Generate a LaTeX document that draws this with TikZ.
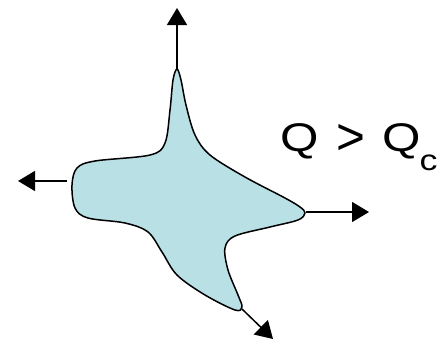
\documentclass[tikz,border=0pt]{standalone}
\usepackage{fontspec}
\setmainfont{Liberation Sans}
\usetikzlibrary{arrows.meta}
\definecolor{blobfill}{RGB}{185,224,229}
\begin{document}
\begin{tikzpicture}[x=1pt,y=-1pt,
  flow/.style={line width=1.5pt,-{Triangle[width=20pt,length=17pt]}},
  blob/.style={draw=black,line width=1.5pt,fill=blobfill}]
\useasboundingbox (0,0) rectangle (438,341);
\draw[blob] plot[smooth cycle,tension=0.55] coordinates {
 (177,69) (181,80) (186,105) (195,135) (210,155) (245,177) (285,198) (300,207)
 (305,213) (298,220) (270,227) (235,236) (225,248) (228,270) (238,295)
 (242,307) (235,310) (205,295) (177,275) (162,252) (148,232) (125,223)
 (88,218) (75,208) (72,185) (77,168) (95,161) (150,155) (165,143) (170,110) (173,80)};
\coordinate (top) at (177,69);
\coordinate (topend) at (177,8);
\coordinate (left) at (67,181);
\coordinate (leftend) at (18,181);
\coordinate (right) at (306,212);
\coordinate (rightend) at (369,212);
\coordinate (bot) at (242,309);
\coordinate (botend) at (273,339);
\draw[flow] (top) -- (topend);
\draw[flow] (left) -- (leftend);
\draw[flow] (right) -- (rightend);
\draw[flow] (bot) -- (botend);
\node[anchor=base west,inner sep=0pt,font=\fontsize{40}{44}\selectfont] (label) at (280.4,151)
 {\scalebox{1.235}[1]{Q\hspace{13.85pt}\raisebox{-3.9pt}{\scalebox{1}[1.29]{>}}\hspace{14.3pt}Q\hspace{-1.2pt}\raisebox{-19.5pt}{\fontsize{29}{32}\selectfont c}}};
\end{tikzpicture}
\end{document}
